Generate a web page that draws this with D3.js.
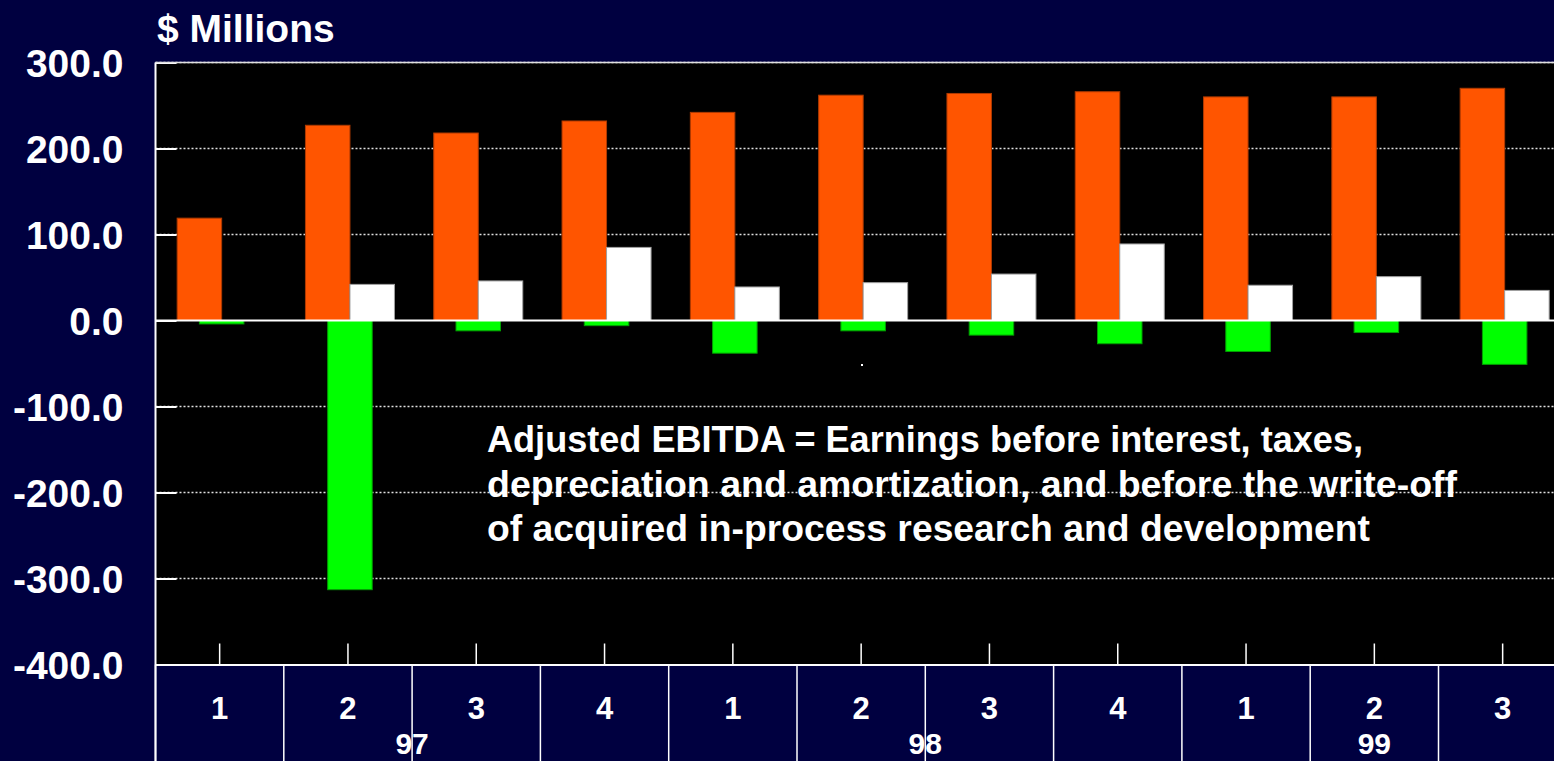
<!DOCTYPE html>
<html>
<head>
<meta charset="utf-8">
<script src="https://cdn.jsdelivr.net/npm/d3@7"></script>
<style>
  html, body { margin: 0; padding: 0; background: #000040; overflow: hidden; }
  svg { display: block; }
  text { font-family: "Liberation Sans", Arial, sans-serif; font-weight: bold; fill: #ffffff; }
</style>
</head>
<body>
<svg id="chart" width="1554" height="761"></svg>
<script>
// ---- data ----
const quarters = ["1", "2", "3", "4", "1", "2", "3", "4", "1", "2", "3"];
const years    = ["97", "97", "97", "97", "98", "98", "98", "98", "99", "99", "99"];
const orangeValues = [119, 227, 218, 232, 242, 262, 264, 266, 260, 260, 270];
const greenValues  = [-4, -313, -12, -6, -38, -12, -17, -27, -36, -14, -51];
const whiteValues  = [0, 42, 46, 85, 39, 44, 54, 89, 41, 51, 35];
const yTicks = [300, 200, 100, 0, -100, -200, -300, -400];
const yUnitLabel = "$ Millions";
const noteLines = [
  "Adjusted EBITDA = Earnings before interest, taxes,",
  "depreciation and amortization, and before the write-off",
  "of acquired in-process research and development"
];

// ---- layout ----
const W = 1554, H = 761;
const plotLeft = 155.5, plotTop = 62.5, plotBottom = 664.5;
const catWidth = 128.3;
const plotRight = plotLeft + catWidth * quarters.length;
const barW = 44.5;
const barShift = 2;
const noteWidths = [876, 970, 883];

const svg = d3.select("#chart");
const keys = quarters.map((q, i) => years[i] + "Q" + q);

const x = d3.scaleBand().domain(keys).range([plotLeft, plotRight]).padding(0);
const y = d3.scaleLinear().domain([-400, 300]).range([plotBottom, plotTop]);

// background
svg.append("rect").attr("x", 0).attr("y", 0).attr("width", W).attr("height", H).attr("fill", "#000040");
svg.append("rect").attr("x", plotLeft).attr("y", plotTop)
  .attr("width", plotRight - plotLeft).attr("height", plotBottom - plotTop).attr("fill", "#000000");

// dotted gridlines
svg.append("g").selectAll("line")
  .data(yTicks.filter(d => d !== 0 && d !== -400))
  .join("line")
  .attr("x1", plotLeft).attr("x2", plotRight)
  .attr("y1", d => y(d)).attr("y2", d => y(d))
  .attr("stroke", "#e0e0e0").attr("stroke-width", 1.5)
  .attr("stroke-dasharray", "2,2");

// bars
const cx = k => x(k) + x.bandwidth() / 2;
function drawBars(values, offset, fill, stroke) {
  svg.append("g").selectAll("rect")
    .data(values.map((v, i) => ({ k: keys[i], v })))
    .join("rect")
    .attr("x", d => cx(d.k) + offset + barShift)
    .attr("width", barW)
    .attr("y", d => y(Math.max(0, d.v)))
    .attr("height", d => Math.abs(y(d.v) - y(0)))
    .attr("fill", fill)
    .attr("stroke", stroke)
    .attr("stroke-width", 1);
}
drawBars(orangeValues, -barW, "#ff5500", "#b03a00");
drawBars(greenValues, -barW / 2, "#00ff00", "#00a000");
drawBars(whiteValues, 0, "#ffffff", "#a0a0a0");

// zero line
svg.append("line")
  .attr("x1", plotLeft).attr("x2", plotRight)
  .attr("y1", y(0)).attr("y2", y(0))
  .attr("stroke", "#ffffff").attr("stroke-width", 2);

// y axis
const yAxis = d3.axisLeft(y).tickValues(yTicks)
  .tickFormat(d => d.toFixed(1))
  .tickSizeInner(-21).tickSizeOuter(0).tickPadding(32);
const gy = svg.append("g").attr("transform", `translate(${plotLeft},0)`).call(yAxis);
gy.select(".domain").attr("stroke", "#ffffff").attr("stroke-width", 2)
  .attr("d", `M0,${plotTop}V${H}`);
gy.selectAll(".tick line").attr("stroke", "#ffffff").attr("stroke-width", 2);
gy.selectAll(".tick text")
  .attr("fill", "#ffffff").attr("font-size", 39)
  .attr("font-family", '"Liberation Sans", Arial, sans-serif')
  .attr("font-weight", "bold")
  .attr("dy", "0.36em");

// top border
svg.append("line")
  .attr("x1", plotLeft).attr("x2", plotRight)
  .attr("y1", plotTop).attr("y2", plotTop)
  .attr("stroke", "#e0e0e0").attr("stroke-width", 1.5);

// x axis with upward ticks
const xAxis = d3.axisBottom(x).tickFormat((k, i) => quarters[i])
  .tickSizeInner(-21).tickSizeOuter(0).tickPadding(32);
const gx = svg.append("g").attr("transform", `translate(0,${plotBottom})`).call(xAxis);
gx.select(".domain").attr("stroke", "#ffffff").attr("stroke-width", 2);
gx.selectAll(".tick line").attr("stroke", "#ffffff").attr("stroke-width", 1.5);
gx.selectAll(".tick text")
  .attr("fill", "#ffffff").attr("font-size", 31)
  .attr("font-family", '"Liberation Sans", Arial, sans-serif')
  .attr("font-weight", "bold");

// category separators in the label table
const boundaries = keys.map(k => x(k)).concat([plotRight]);
svg.append("g").selectAll("line")
  .data(boundaries)
  .join("line")
  .attr("x1", d => d).attr("x2", d => d)
  .attr("y1", plotBottom).attr("y2", H)
  .attr("stroke", "#ffffff").attr("stroke-width", 1.5);

// year labels
const yearGroups = d3.groups(keys.map((k, i) => ({ k, yr: years[i] })), d => d.yr);
svg.append("g").selectAll("text")
  .data(yearGroups)
  .join("text")
  .attr("x", g => d3.mean(g[1], d => cx(d.k)))
  .attr("y", 754)
  .attr("text-anchor", "middle")
  .attr("font-size", 30)
  .text(g => g[0]);

// unit label
svg.append("text").attr("x", 157).attr("y", 42).attr("font-size", 39).text(yUnitLabel);

// note
svg.append("g").selectAll("text")
  .data(noteLines)
  .join("text")
  .attr("x", 487)
  .attr("y", (d, i) => 452 + i * 44.5)
  .attr("font-size", 36)
  .attr("textLength", (d, i) => noteWidths[i])
  .attr("lengthAdjust", "spacingAndGlyphs")
  .text(d => d);

// small stray mark in the original
svg.append("rect").attr("x", 861).attr("y", 364).attr("width", 2).attr("height", 2).attr("fill", "#ffffff");
</script>
</body>
</html>
